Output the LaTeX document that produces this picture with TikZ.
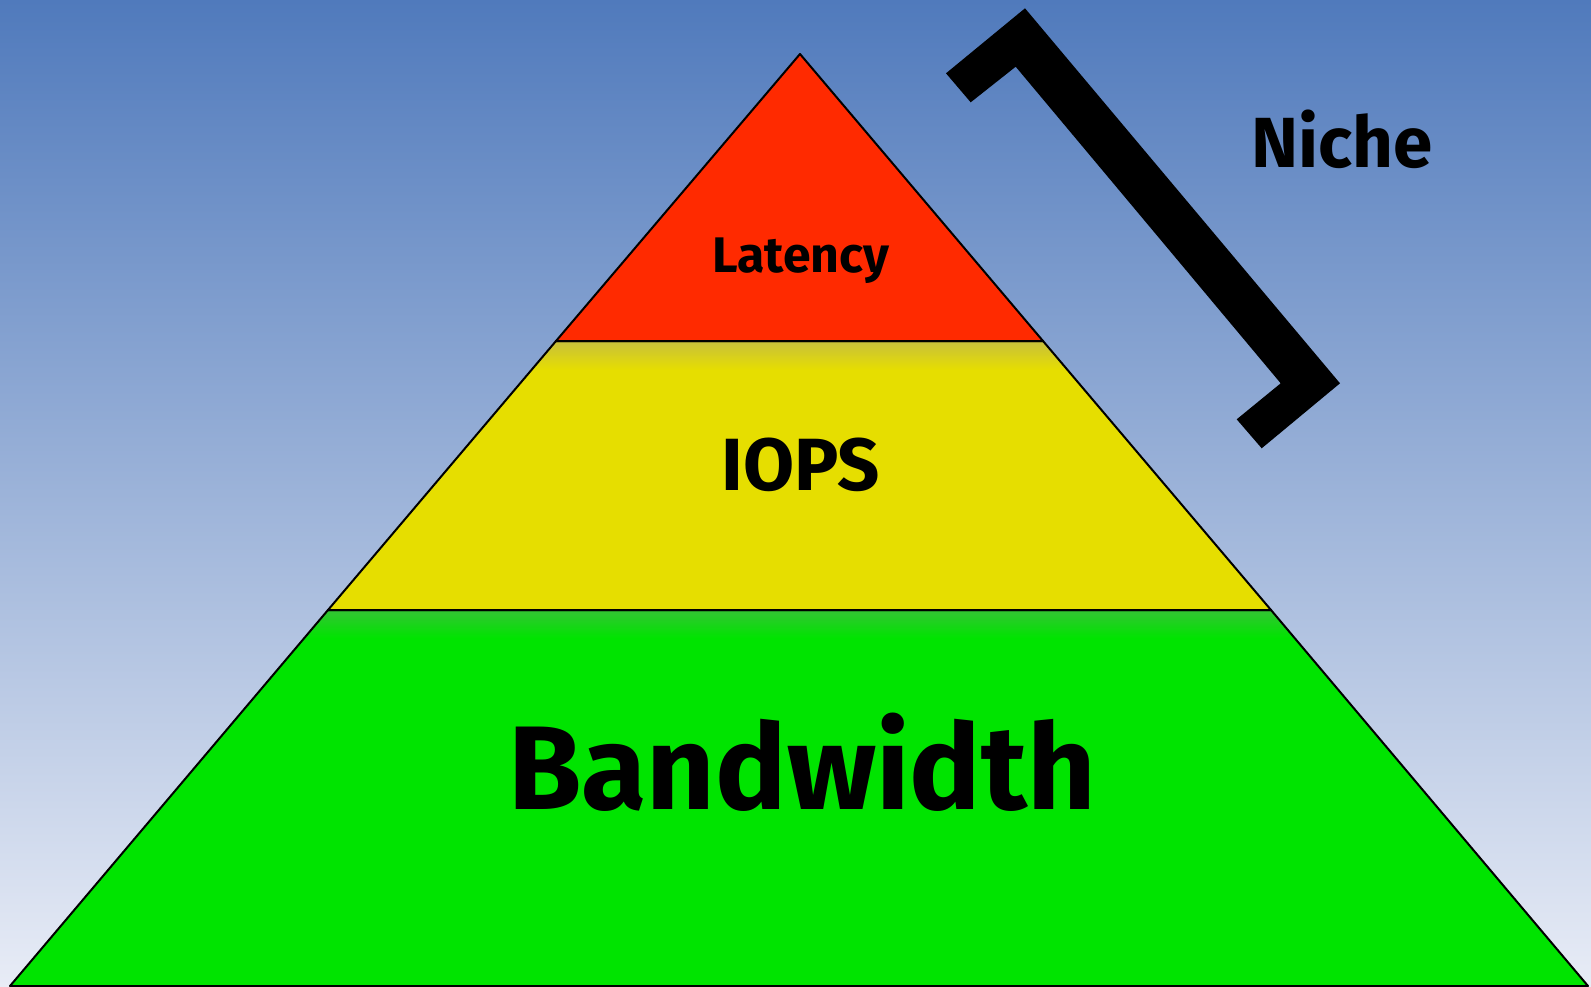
\documentclass[tikz,border=0pt]{standalone}
\usepackage{fontspec}
\setmainfont{Fira Sans}
\definecolor{bgtop}{RGB}{80,122,188}
\definecolor{bgbot}{RGB}{232,236,246}
\definecolor{lred}{RGB}{255,42,0}
\definecolor{lyellow}{RGB}{230,222,0}
\definecolor{lgreen}{RGB}{0,228,0}
\definecolor{shyellow}{RGB}{200,192,60}
\definecolor{shgreen}{RGB}{52,196,52}
\tikzset{
  layer/.style={draw=black, line width=2pt, line join=round},
  lbl/.style={anchor=base, inner sep=0pt, font=\bfseries},
}
\begin{document}
\begin{tikzpicture}[x=1pt,y=-1pt]
\useasboundingbox (0,0) rectangle (1591,986);
\shade[top color=bgtop, bottom color=bgbot] (0,0) rectangle (1591,986);
% layers
\fill[lgreen] (328,610) -- (1271,610) -- (1588,986) -- (10,986) -- cycle;
\begin{scope}
\clip (328,610) -- (1271,610) -- (1588,986) -- (10,986) -- cycle;
\shade[top color=shgreen, bottom color=lgreen] (0,610) rectangle (1591,638);
\end{scope}
\fill[lyellow] (556,341) -- (1043,341) -- (1271,610) -- (328,610) -- cycle;
\begin{scope}
\clip (556,341) -- (1043,341) -- (1271,610) -- (328,610) -- cycle;
\shade[top color=shyellow, bottom color=lyellow] (0,341) rectangle (1591,370);
\end{scope}
\fill[lred] (800,54) -- (1043,341) -- (556,341) -- cycle;
\draw[layer] (800,54) -- (1043,341) -- (556,341) -- cycle;
\draw[layer] (556,341) -- (1043,341) -- (1271,610) -- (328,610) -- cycle;
\draw[layer] (328,610) -- (1271,610) -- (1588,986) -- (10,986) -- cycle;
% bracket
\fill[black] (946,73.3) -- (1025,8.3) -- (1340,383.3) -- (1261.7,448.3) -- (1236.7,419.3) -- (1280.7,383.3) -- (1015.7,66.7) -- (970.7,102.3) -- cycle;
% labels
\node[lbl, font=\bfseries\fontsize{50}{50}\selectfont] (lat) at (801,272) {Latency};
\node[lbl, font=\bfseries\fontsize{74}{74}\selectfont] (iops) at (801,490) {IOPS};
\node[lbl, font=\bfseries\fontsize{119}{119}\selectfont] (bw) at (802,809) {Bandwidth};
\node[lbl, font=\bfseries\fontsize{71}{71}\selectfont] (niche) at (1342,167) {Niche};
\end{tikzpicture}
\end{document}
